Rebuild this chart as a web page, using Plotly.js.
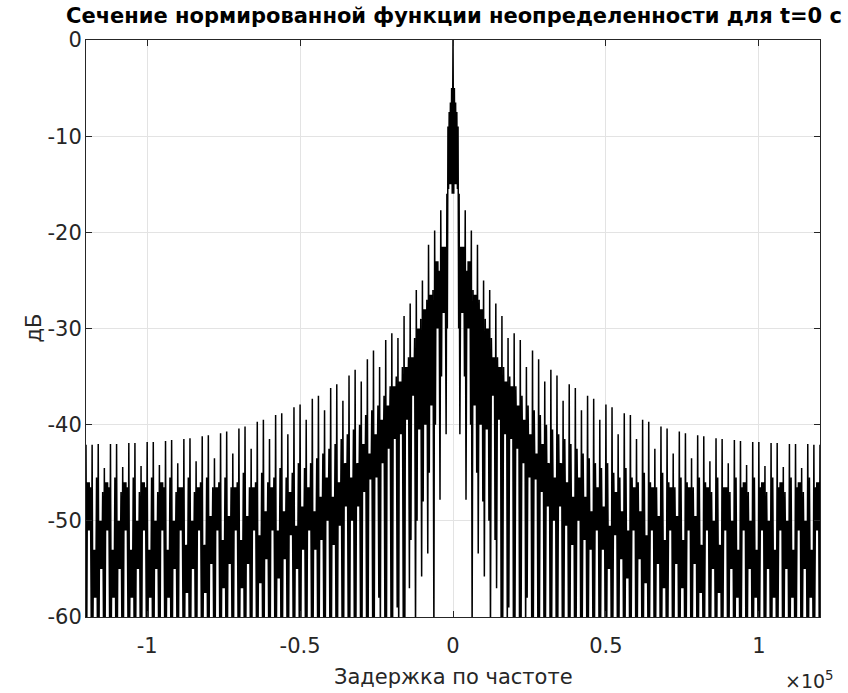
<!DOCTYPE html>
<html>
<head>
<meta charset="utf-8">
<script src="https://cdn.plot.ly/plotly-3.0.1.min.js"></script>
<style>
  html, body { margin: 0; padding: 0; background: #ffffff; }
  #chart { width: 848px; height: 693px; }
</style>
</head>
<body>
<div id="chart"></div>
<script>
// ---- Data (positive half; the cut is symmetric about 0) ----
// Central fine structure, |f| < 2000 Hz
const coreHz = [0, 250, 450, 650, 850, 1050, 1250, 1450, 1650, 1850];
const coreDb = [0, -16, -5, -15, -6.5, -15, -7.5, -15.5, -9, -30];

// One entry per 2000 Hz lobe period, k = 1..60
const periodHz = 2000;
const offsetsHz = [0, 250, 550, 800, 950, 1100, 1250, 1400, 1550, 1750];

const topDb = [
  -16.0, -17.7, -19.8, -21.3, -25.0, -26.0, -27.4, -28.7, -31.0, -30.5,
  -31.2, -34.0, -32.3, -33.2, -35.5, -34.3, -34.9, -37.5, -35.8, -36.2,
  -38.5, -37.0, -37.3, -39.5, -37.9, -38.2, -41.0, -38.8, -39.0, -41.5,
  -39.5, -39.7, -42.5, -40.2, -40.4, -43.0, -40.7, -40.9, -43.5, -41.1,
  -41.2, -43.8, -41.4, -41.5, -44.0, -41.6, -41.7, -44.2, -41.8, -41.8,
  -44.3, -41.9, -41.9, -44.4, -42.0, -42.0, -44.5, -42.0, -42.1, -42.1
];
const deepADb = [
  -41.0, -47.8, -62.0, -53.4, -55.8, -62.0, -57.0, -62.0, -59.0, -62.0,
  -62.0, -58.0, -62.0, -62.0, -60.0, -62.0, -62.0, -62.0, -62.0, -62.0,
  -62.0, -62.0, -62.0, -62.0, -62.0, -62.0, -62.0, -62.0, -62.0, -62.0,
  -62.0, -62.0, -62.0, -62.0, -62.0, -62.0, -62.0, -62.0, -62.0, -62.0,
  -62.0, -62.0, -62.0, -62.0, -62.0, -62.0, -62.0, -62.0, -62.0, -62.0,
  -62.0, -62.0, -62.0, -62.0, -62.0, -62.0, -62.0, -62.0, -62.0, -62.0
];
const midDb = [
  -21.5, -24.0, -26.0, -27.0, -29.0, -31.0, -33.0, -34.0, -35.0, -36.0,
  -37.0, -38.0, -38.5, -39.0, -40.0, -40.5, -41.0, -41.5, -42.0, -42.5,
  -43.0, -43.5, -44.0, -44.5, -44.0, -45.0, -45.5, -44.5, -45.5, -46.0,
  -45.0, -46.0, -46.5, -45.0, -46.0, -46.5, -45.5, -46.0, -46.5, -45.5,
  -46.0, -47.0, -45.5, -46.5, -47.0, -45.5, -46.5, -47.0, -45.5, -46.5,
  -47.0, -45.5, -46.5, -47.0, -45.5, -46.5, -47.0, -45.5, -46.5, -47.0
];
const bandHiDb = [
  -21.5, -23.0, -26.5, -28.0, -30.0, -33.0, -34.0, -35.5, -36.0, -38.0,
  -39.5, -41.0, -43.0, -42.0, -44.0, -45.5, -44.0, -46.0, -47.5, -45.5,
  -47.5, -49.0, -46.5, -48.5, -50.5, -47.0, -49.0, -51.0, -46.5, -49.0,
  -51.5, -46.5, -49.5, -52.0, -46.5, -49.5, -52.0, -46.5, -49.5, -52.5,
  -46.5, -50.0, -52.5, -46.5, -50.0, -53.0, -46.0, -50.0, -53.0, -46.0,
  -50.0, -53.0, -46.0, -50.0, -53.0, -46.0, -50.0, -53.0, -46.0, -50.0
];
const bandLoDb = [
  -28.4, -30.0, -38.0, -40.0, -40.5, -37.0, -39.5, -41.0, -41.5, -42.5,
  -44.0, -45.5, -45.7, -47.0, -48.5, -50.0, -48.5, -50.5, -52.5, -50.0,
  -52.0, -53.0, -51.0, -53.0, -55.0, -51.5, -54.0, -56.0, -51.0, -54.0,
  -56.5, -51.0, -54.5, -57.0, -51.0, -54.5, -57.0, -51.0, -54.5, -57.5,
  -51.0, -55.0, -57.5, -51.0, -55.0, -58.0, -51.0, -55.0, -58.0, -51.0,
  -55.0, -58.0, -51.0, -55.0, -58.0, -51.0, -55.0, -58.0, -51.0, -55.0
];
const deepBDb = [
  -35.0, -40.0, -45.0, -48.0, -50.0, -52.0, -62.0, -62.0, -62.0, -62.0,
  -62.0, -62.0, -62.0, -62.0, -62.0, -62.0, -62.0, -62.0, -62.0, -62.0,
  -62.0, -62.0, -62.0, -62.0, -62.0, -62.0, -62.0, -62.0, -62.0, -62.0,
  -62.0, -62.0, -62.0, -62.0, -62.0, -62.0, -62.0, -62.0, -62.0, -62.0,
  -62.0, -62.0, -62.0, -62.0, -62.0, -62.0, -62.0, -62.0, -62.0, -62.0,
  -62.0, -62.0, -62.0, -62.0, -62.0, -62.0, -62.0, -62.0, -62.0, -62.0
];

// Axis ticks
const xTickVals = [-100000, -50000, 0, 50000, 100000];
const xTickText = ['-1', '-0.5', '0', '0.5', '1'];
const yTickVals = [-60, -50, -40, -30, -20, -10, 0];
const yTickText = ['-60', '-50', '-40', '-30', '-20', '-10', '0'];

const titleText = 'Сечение нормированной функции неопределенности для t=0 с';
const xTitleText = 'Задержка по частоте';
const yTitleText = 'дБ';

// ---- Build the polyline (positive half, then mirrored) ----
const posX = coreHz.slice();
const posY = coreDb.slice();
for (let i = 0; i < topDb.length; i++) {
  const base = (i + 1) * periodHz;
  const vals = [topDb[i], deepADb[i], midDb[i], bandLoDb[i], bandHiDb[i], bandLoDb[i],
                bandHiDb[i], bandLoDb[i], bandHiDb[i], deepBDb[i]];
  for (let j = 0; j < offsetsHz.length; j++) {
    posX.push(base + offsetsHz[j]);
    posY.push(vals[j]);
  }
}
const xs = [], ys = [];
for (let i = posX.length - 1; i >= 1; i--) { xs.push(-posX[i]); ys.push(posY[i]); }
for (let i = 0; i < posX.length; i++) { xs.push(posX[i]); ys.push(posY[i]); }

const FONT = 'DejaVu Sans, Liberation Sans, Arial, sans-serif';
const AX = '#262626';

const trace = {
  x: xs, y: ys, type: 'scatter', mode: 'lines',
  line: { color: '#000000', width: 1.5, simplify: false },
  hoverinfo: 'skip'
};

const axisCommon = {
  ticks: 'inside', ticklen: 6, tickwidth: 1, tickcolor: AX,
  showline: true, linecolor: AX, linewidth: 1, mirror: 'ticks',
  showgrid: true, gridcolor: '#e3e3e3', gridwidth: 1,
  zeroline: false, tickmode: 'array',
  tickfont: { family: FONT, size: 21, color: AX }
};

const layout = {
  width: 848, height: 693,
  margin: { l: 86, r: 28, t: 40, b: 76, pad: 0 },
  paper_bgcolor: '#ffffff', plot_bgcolor: '#ffffff',
  showlegend: false,
  title: {
    text: titleText,
    font: { family: FONT, size: 21, color: '#000000', weight: 'bold' },
    x: 454 / 848, xanchor: 'center', xref: 'container',
    y: 1 - 16 / 693, yanchor: 'middle', yref: 'container'
  },
  xaxis: Object.assign({}, axisCommon, {
    range: [-120000, 120000], tickvals: xTickVals, ticktext: xTickText,
    ticklabelstandoff: 10
  }),
  yaxis: Object.assign({}, axisCommon, {
    range: [-60, 0], tickvals: yTickVals, ticktext: yTickText,
    ticklabelstandoff: -1
  }),
  annotations: [
    { text: xTitleText, xref: 'paper', yref: 'paper', x: (453 - 86) / 734, y: (617 - 677) / 577,
      xanchor: 'center', yanchor: 'middle', showarrow: false,
      font: { family: FONT, size: 21, color: AX } },
    { text: '×10<sup>5</sup>', xref: 'paper', yref: 'paper', x: (836 - 86) / 734, y: (617 - 680) / 577,
      xanchor: 'right', yanchor: 'middle', showarrow: false,
      font: { family: FONT, size: 19, color: AX } },
    { text: yTitleText, xref: 'paper', yref: 'paper', x: (33 - 86) / 734, y: 0.5,
      xanchor: 'center', yanchor: 'middle', textangle: -90, showarrow: false,
      font: { family: FONT, size: 21, color: AX } }
  ]
};

Plotly.newPlot('chart', [trace], layout, { staticPlot: true, displayModeBar: false });
</script>
</body>
</html>
